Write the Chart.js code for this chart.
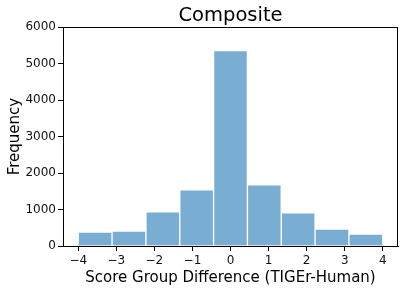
<!DOCTYPE html>
<html>

<head>
    <title>Composite</title>
    <script src="https://cdn.jsdelivr.net/npm/chart.js"></script>
    <style>
        html, body {
            margin: 0;
            padding: 0;
            background: #fff;
        }

        #wrap {
            width: 408px;
            height: 291px;
        }
    </style>
</head>

<body>
    <div id="wrap">
        <canvas id="myChart" width="408" height="291"></canvas>
    </div>

    <script>
        // Histogram bins (edges) and counts
        const binEdges = [-4, -3.111, -2.222, -1.333, -0.444, 0.444, 1.333, 2.222, 3.111, 4];
        const counts = [385, 412, 934, 1538, 5357, 1676, 907, 467, 330];
        const xTicks = [-4, -3, -2, -1, 0, 1, 2, 3, 4];
        const yTicks = [0, 1000, 2000, 3000, 4000, 5000, 6000];

        // one point per bin, placed at the bin centre
        const points = counts.map((c, i) => ({
            x: (binEdges[i] + binEdges[i + 1]) / 2,
            y: c
        }));

        const fmt = v => (v < 0 ? '\u2212' + Math.abs(v) : String(v));

        // draw the full axes frame like matplotlib
        const frame = {
            id: 'frame',
            afterDraw(chart) {
                const a = chart.chartArea;
                const c = chart.ctx;
                c.save();
                c.strokeStyle = '#000';
                c.lineWidth = 1;
                c.strokeRect(Math.round(a.left) + 0.5, Math.round(a.top) + 0.5,
                    Math.round(a.right - a.left) - 1, Math.round(a.bottom - a.top));
                c.restore();
            }
        };

        const ctx = document.getElementById('myChart').getContext('2d');
        Chart.defaults.font.family = '"DejaVu Sans", sans-serif';
        Chart.defaults.color = '#111';

        new Chart(ctx, {
            type: 'bar',
            data: {
                datasets: [{
                    data: points,
                    backgroundColor: 'rgba(31,119,180,0.6)',
                    borderColor: 'rgba(255,255,255,0.8)',
                    borderWidth: 1,
                    barPercentage: 1,
                    categoryPercentage: 1
                }]
            },
            options: {
                responsive: false,
                animation: false,
                layout: {
                    padding: { top: 0, right: 10, bottom: 0, left: 0 }
                },
                plugins: {
                    legend: { display: false },
                    tooltip: { enabled: false },
                    title: {
                        display: true,
                        text: 'Composite',
                        fullSize: false,
                        color: '#000',
                        font: { size: 19.5, weight: 'normal', lineHeight: 1.15 },
                        padding: { top: 4.8, bottom: 0 }
                    }
                },
                scales: {
                    x: {
                        type: 'linear',
                        min: -4.4,
                        max: 4.4,
                        offset: false,
                        afterBuildTicks: s => { s.ticks = xTicks.map(v => ({ value: v })); },
                        afterFit: s => { s.height = 45; },
                        grid: {
                            offset: false,
                            drawOnChartArea: false,
                            tickLength: 5,
                            tickColor: '#000'
                        },
                        border: { color: '#000' },
                        ticks: {
                            font: { size: 12 },
                            padding: 3,
                            maxRotation: 0,
                            autoSkip: false,
                            callback: v => fmt(v)
                        },
                        title: {
                            display: true,
                            text: 'Score Group Difference (TIGEr-Human)',
                            color: '#000',
                            font: { size: 15 },
                            padding: { top: 0, bottom: 4 }
                        }
                    },
                    y: {
                        min: 0,
                        max: 6000,
                        afterBuildTicks: s => { s.ticks = yTicks.map(v => ({ value: v })); },
                        afterFit: s => { s.width = 63; },
                        grid: {
                            drawOnChartArea: false,
                            tickLength: 5,
                            tickColor: '#000'
                        },
                        border: { color: '#000' },
                        ticks: {
                            font: { size: 12 },
                            padding: 2,
                            callback: v => String(v)
                        },
                        title: {
                            display: true,
                            text: 'Frequency',
                            color: '#000',
                            font: { size: 15 },
                            padding: { top: 6, bottom: 0 }
                        }
                    }
                }
            },
            plugins: [frame]
        });
    </script>
</body>

</html>
